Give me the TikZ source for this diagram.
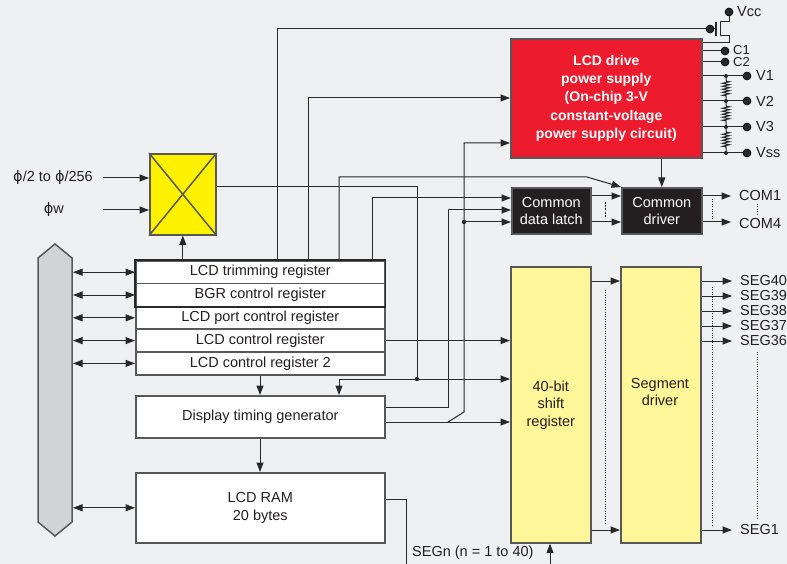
\documentclass[tikz,border=0pt]{standalone}
\usepackage{fontspec}
\setmainfont{Liberation Sans}
\newfontfamily\dejavu{DejaVu Sans}
\usetikzlibrary{arrows.meta,decorations.pathmorphing}
\definecolor{bg}{RGB}{239,240,241}
\definecolor{ln}{RGB}{40,40,40}
\definecolor{bd}{RGB}{88,88,90}
\definecolor{txt}{RGB}{35,31,32}
\definecolor{lcdred}{RGB}{237,27,46}
\definecolor{muxy}{RGB}{255,242,0}
\definecolor{lyel}{RGB}{255,245,153}
\definecolor{darkbox}{RGB}{35,31,32}
\definecolor{busg}{RGB}{209,211,212}
\begin{document}
\begin{tikzpicture}[x=1pt,y=-1pt,
  every node/.style={text=txt},
  fnt/.style={font=\fontsize{14.5}{17.5}\selectfont},
  >={Triangle[length=9.5pt,width=7pt]},
  wire/.style={draw=ln,line width=1pt},
  arr/.style={wire,->},
  darr/.style={wire,<->},
  box/.style={draw=bd,line width=1.6pt,anchor=north west,inner sep=0pt,align=center,fnt},
  reg/.style={box,fill=white,minimum width=249pt,minimum height=22.8pt},
  dbox/.style={box,fill=darkbox,text=white,minimum width=79pt,minimum height=46pt},
  ybox/.style={box,fill=lyel,minimum width=80pt,minimum height=276pt},
  pindot/.style={fill=ln,draw=black,line width=0.6pt},
  lab/.style={anchor=west,inner sep=0pt,fnt},
  smalllab/.style={anchor=west,inner sep=0pt,font=\fontsize{13}{13}\selectfont},
  dotl/.style={draw=ln,line width=0.6pt,dash pattern=on 0.8pt off 1.6pt},
]
\useasboundingbox (0,0) rectangle (787,564);
\fill[bg] (0,0) rectangle (787,564);

% ---- bus ----
\draw[fill=busg,draw=bd,line width=1.5pt] (55,244) -- (72,258) -- (72,522) -- (55,536) -- (38,522) -- (38,258) -- cycle;
\coordinate (busR) at (73,0);

% ---- registers ----
\node[reg] (trim) at (135,260) {LCD trimming register};
\node[reg] (bgr) at (135,282.8) {BGR control register};
\node[reg] (port) at (135,305.6) {LCD port control register};
\node[reg] (ctl) at (135,328.4) {LCD control register};
\node[reg] (ctl2) at (135,351.2) {LCD control register 2};
\draw[ln,line width=1.6pt] (trim.north west) rectangle (bgr.south east);
\node[box,fill=white,minimum width=249pt,minimum height=42pt] (dtg) at (135,395) {Display timing generator};
\node[box,fill=white,minimum width=249pt,minimum height=70pt] (ram) at (135,472) {LCD RAM\\20 bytes};

\foreach \r in {trim,bgr,port,ctl,ctl2,ram}{
  \draw[darr] (\r.west -| busR) -- (\r.west);
}

% ---- mux ----
\node[box,fill=muxy,minimum width=66pt,minimum height=81pt] (mux) at (149,153) {};
\draw[bd,line width=1.5pt] (mux.north west) -- (mux.south east) (mux.north east) -- (mux.south west);
\node[anchor=east,inner sep=0pt,fnt] (phi1) at (93,178) {{\dejavu ϕ}/2 to {\dejavu ϕ}/256};
\node[anchor=east,inner sep=0pt,fnt] (phiw) at (64,210) {{\dejavu ϕ}w};
\coordinate (in1) at (103,178);
\coordinate (in2) at (103,210);
\draw[arr] (in1) -- (mux.west |- in1);
\draw[arr] (in2) -- (mux.west |- in2);

% ---- power supply ----
\node[box,fill=lcdred,text=white,minimum width=191pt,minimum height=119pt,font=\fontsize{14}{18.3}\selectfont\bfseries] (psu) at (510,38) {LCD drive\\power supply\\(On-chip 3-V\\constant-voltage\\power supply circuit)};

% ---- common ----
\node[dbox] (latch) at (511,187) {Common\\data latch};
\node[dbox,minimum width=80pt] (cdrv) at (621,187) {Common\\driver};

% ---- segment ----
\node[ybox] (sr) at (510,266) {40-bit\\shift\\register};
\node[ybox] (sd) at (620,266) {};
\node[fnt,align=center] (sdt) at (660,392) {Segment\\driver};

% ---- connectors from registers ----
\coordinate (g1) at (277,29);
\coordinate (gdot) at (710,29);
\draw[wire] (trim.north -| g1) -- (g1) -- (gdot);

\coordinate (b1) at (308,98);
\draw[arr] (trim.north -| b1) -- (b1) -- (psu.west |- b1);

\coordinate (c1) at (339,177);
\coordinate (c2) at (587,177);
\draw[arr] (trim.north -| c1) -- (c1) -- (c2) -- (cdrv.north west);

\coordinate (d1) at (372,198);
\draw[arr] (trim.north -| d1) -- (d1) -- (latch.west |- d1);

\draw[arr] (trim.north -| mux.south) -- (mux.south);

\coordinate (m1) at (215,187);
\coordinate (m2) at (417,187);
\coordinate (j1) at (417,379);
\coordinate (m3) at (339,379);
\draw[wire] (mux.east |- m1) -- (m2) -- (j1);
\draw[arr] (j1) -- (sr.west |- j1);
\draw[arr] (j1) -- (m3) -- (dtg.north -| m3);
\fill[ln] (j1) circle (2.2pt);

\coordinate (k1) at (260,0);
\draw[arr] (ctl2.south -| k1) -- (dtg.north -| k1);
\draw[arr] (dtg.south -| k1) -- (ram.north -| k1);

\draw[arr] (ctl.east) -- (sr.west |- ctl.east);

\coordinate (q1) at (448,407);
\coordinate (q2) at (448,210);
\draw[arr] (dtg.east |- q1) -- (q1) -- (q2) -- (latch.west |- q2);

\coordinate (r1) at (448,422);
\coordinate (r2) at (464,412);
\coordinate (r3) at (464,143);
\coordinate (r4) at (464,222);
\draw[arr] (dtg.east |- r1) -- (sr.west |- r1);
\draw[arr] (r1) -- (r2) -- (r3) -- (psu.west |- r3);
\draw[arr] (r4) -- (latch.west |- r4);
\fill[ln] (r4) circle (2.2pt);

% ---- latch -> driver ----
\coordinate (e1) at (0,196);
\coordinate (e2) at (0,222);
\draw[arr] (latch.east |- e1) -- (cdrv.west |- e1);
\draw[arr] (latch.east |- e2) -- (cdrv.west |- e2);
\draw[ln,line width=0.8pt,dash pattern=on 2pt off 1.2pt] (605,202) -- (605,218);
\draw[arr] (psu.south -| cdrv.north) -- (cdrv.north);

\node[lab] (com1) at (739,196) {COM1};
\node[lab] (com4) at (739,224) {COM4};
\coordinate (a1) at (731,196);
\coordinate (a4) at (731,222);
\draw[arr] (cdrv.east |- a1) -- (a1);
\draw[arr] (cdrv.east |- a4) -- (a4);
\draw[dotl] (712,199) -- (712,220);
\draw[dotl] (757,204) -- (757,214);

% ---- segment outputs ----
\foreach \y/\t in {281/40,296/39,311/38,326/37,341/36,530/1}{
  \node[lab] (seg\t) at (740,\y) {SEG\t};
  \draw[arr] (sd.east |- seg\t.west) -- ([xshift=-8pt]seg\t.west);
}
\draw[arr] (sr.east |- seg40.west) -- (sd.west |- seg40.west);
\draw[arr] (sr.east |- seg1.west) -- (sd.west |- seg1.west);
\draw[dotl] (605,290) -- (605,525);
\draw[dotl] (712,287) -- (712,527);
\draw[dotl] (757,352) -- (757,518);

% ---- LCD RAM output ----
\coordinate (s1) at (406,499);
\coordinate (s2) at (406,564);
\draw[wire] (ram.east |- s1) -- (s1) -- (s2);
\node[lab] (segn) at (412,553) {SEGn (n = 1 to 40)};
\coordinate (s3) at (550,564);
\draw[arr] (s3) -- (sr.south -| s3);

% ---- power pins ----
\coordinate (vcc) at (729,12);
\coordinate (t22) at (729,22);
\coordinate (t36) at (729,36);
\coordinate (t43) at (729,43);
\draw[wire] (vcc) -- (t22) -- (720,22) -- (720,36) -- (t36) -- (t43) -- (t43 -| psu.east);
\draw[ln,line width=2pt] (715.5,22) -- (715.5,36);
\draw[wire] (gdot) -- (715.5,29);
\fill[pindot] (gdot) circle (4pt);
\fill[pindot] (vcc) circle (4pt);
\node[lab] (lvcc) at (737,12) {Vcc};

\coordinate (pc1) at (725,51);
\coordinate (pc2) at (725,62);
\draw[wire] (pc1 -| psu.east) -- (pc1);
\draw[wire] (pc2 -| psu.east) -- (pc2);
\fill[pindot] (pc1) circle (4pt);
\fill[pindot] (pc2) circle (4pt);
\node[smalllab] (lc1) at (733,50.5) {C1};
\node[smalllab] (lc2) at (733,62.5) {C2};

\foreach \y/\t in {76/V1,101/V2,127/V3,153/Vss}{
  \coordinate (pv\t) at (747,\y);
  \draw[wire] (pv\t -| psu.east) -- (pv\t);
  \fill[pindot] (pv\t) circle (4pt);
  \node[lab] (l\t) at (756,\y) {\t};
  \fill[ln] (726,\y) circle (2pt);
}
\draw[wire,decoration={zigzag,segment length=3pt,amplitude=3.5pt}]
  (726,76) -- (726,81) decorate {-- (726,96)} -- (726,101)
  -- (726,106) decorate {-- (726,121)} -- (726,127)
  -- (726,132) decorate {-- (726,147)} -- (726,153);
\end{tikzpicture}
\end{document}
